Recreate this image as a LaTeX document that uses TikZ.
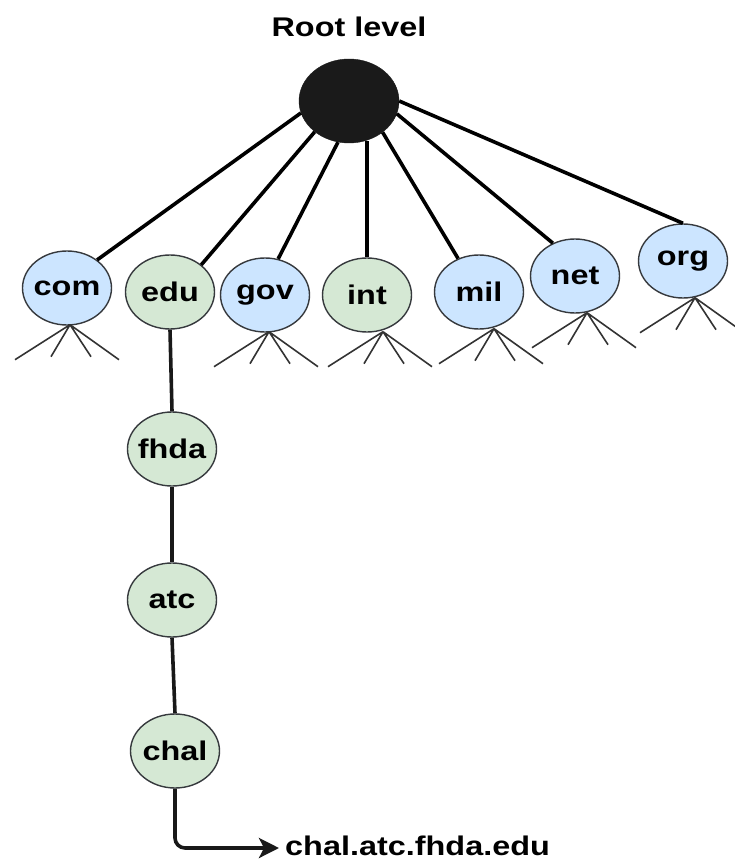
\documentclass[tikz,border=0pt]{standalone}
\usepackage{fontspec}
\setmainfont{Liberation Sans}[FakeStretch=1.2]
\usetikzlibrary{shapes.geometric,arrows.meta,calc}

\definecolor{tldblue}{HTML}{CCE5FF}
\definecolor{tldgreen}{HTML}{D5E8D4}
\definecolor{rimgray}{HTML}{36393D}
\definecolor{rootfill}{HTML}{1A1A1A}

% keep the label from widening the ellipse
\newcommand\tldtext[1]{\makebox[0pt]{#1}}

\tikzset{
  tldnode/.style={ellipse, draw=rimgray, line width=1.4pt, inner sep=0pt,
    minimum width=89pt, minimum height=74pt,
    font=\fontsize{27}{32}\selectfont\bfseries},
  bluedom/.style={tldnode, fill=tldblue},
  greendom/.style={tldnode, fill=tldgreen},
  rootdot/.style={ellipse, draw=rootfill, fill=rootfill, inner sep=0pt,
    minimum width=100pt, minimum height=84pt},
  branch/.style={draw=black, line width=3.6pt},
  chain/.style={draw=black!90, line width=3.6pt},
  fan/.style={draw=black!80, line width=1.6pt},
  caption/.style={font=\fontsize{27}{32}\selectfont\bfseries, inner sep=0pt}
}

\begin{document}
\begin{tikzpicture}[x=1pt,y=-1pt]
  \useasboundingbox (0,0) rectangle (734,861);

  % root of the name space
  \node[caption] (rootlbl) at (349,27) {Root level};
  \node[rootdot] (root) at (349,101) {};

  % top-level domains
  \node[bluedom]  (com) at (67,288)  {\tldtext{com}};
  \node[greendom] (edu) at (170,292) {\tldtext{edu}};
  \node[bluedom]  (gov) at (265,295) {\tldtext{gov}};
  \node[greendom] (int) at (367,295) {\tldtext{int}};
  \node[bluedom]  (mil) at (479,292) {\tldtext{mil}};
  \node[bluedom]  (net) at (575,276) {\tldtext{net}};
  \node[bluedom]  (org) at (683,261) {\tldtext{org}};

  % path down to the host
  \node[greendom] (fhda) at (172,449) {\tldtext{fhda}};
  \node[greendom] (atc)  at (172,600) {\tldtext{atc}};
  \node[greendom] (chal) at (175,751) {\tldtext{chal}};

  % branches from the root
  \draw[branch] (root.194) -- (com.43);
  \draw[branch] (root.222) -- (edu.41);
  \draw[branch] (root.255) -- (gov.70);
  \draw[branch] (int.north) -- (int.north |- root.292);
  \draw[branch] (root.317) -- (mil.122);
  \draw[branch] (root.345) -- (net.124);
  \draw[branch] (root.0)   -- (org.90);

  % chain edu -> fhda -> atc -> chal
  \draw[chain] (edu.south) -- (fhda.north);
  \draw[chain] (fhda.south) -- (atc.north);
  \draw[chain] (atc.south) -- (chal.north);

  % full domain name
  \node[caption, anchor=base west] (fqdn) at (285,855) {chal.atc.fhda.edu};
  \coordinate (bend) at (chal.south |- 0,848);
  \coordinate (tip) at ($(fqdn.west |- bend)+(-6,0)$);
  \draw[chain, rounded corners=10pt,
        -{Stealth[length=20pt,width=20pt,inset=5pt]}]
    (chal.south) -- (bend) -- (tip);

  % further subdomains hinted under each top-level domain
  \foreach \d/\dx in {com/3, gov/4, int/16, mil/15, net/12, org/12}{
    \coordinate (\d-fan) at ($(\d.south)+(\dx,-1)$);
    \draw[fan] (\d-fan) -- ++(-55,35)
               (\d-fan) -- ++(-19,32)
               (\d-fan) -- ++(21,32)
               (\d-fan) -- ++(49,35);
  }
\end{tikzpicture}
\end{document}
